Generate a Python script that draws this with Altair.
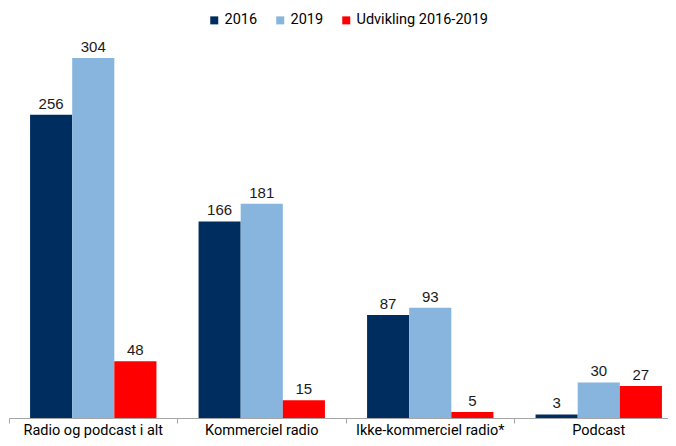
import altair as alt
import pandas as pd

categories = ["Radio og podcast i alt", "Kommerciel radio", "Ikke-kommerciel radio*", "Podcast"]
series = ["2016", "2019", "Udvikling 2016-2019"]
values_2016 = [256, 166, 87, 3]
values_2019 = [304, 181, 93, 30]
values_dev = [48, 15, 5, 27]
colors = ["#002D5F", "#87B5DE", "#FF0000"]

rows = []
for i, c in enumerate(categories):
    for s, vals in zip(series, [values_2016, values_2019, values_dev]):
        rows.append({"kategori": c, "serie": s, "vaerdi": vals[i]})
df = pd.DataFrame(rows)

x = alt.X(
    "kategori:N",
    sort=categories,
    scale=alt.Scale(paddingInner=0, paddingOuter=0, range=[0, 674]),
    axis=alt.Axis(
        title=None, labelAngle=0, bandPosition=0,
        domainColor="#A6A6A6", tickColor="#A6A6A6", tickSize=5,
        labelFont="Roboto", labelFontSize=14.5, labelColor="#000000",
        labelBaseline="alphabetic", labelPadding=11, domainWidth=1, tickWidth=1,
    ),
)
xo = alt.XOffset("serie:N", sort=series, scale=alt.Scale(paddingInner=0, paddingOuter=0.5))
y = alt.Y("vaerdi:Q", scale=alt.Scale(domain=[0, 327.6], nice=False), axis=None)
color = alt.Color(
    "serie:N",
    sort=series,
    scale=alt.Scale(domain=series, range=colors),
    legend=alt.Legend(
        title=None, orient="none", direction="horizontal",
        legendX=198, legendY=-17, symbolType="square", symbolSize=64,
        symbolStrokeWidth=0, symbolOpacity=1, labelFont="Roboto", labelFontSize=14.5,
        labelOffset=3, columnPadding=15, padding=0, labelColor="#000000",
    ),
)

bars = alt.Chart(df).mark_bar(opacity=1).encode(x=x, xOffset=xo, y=y, color=color)
labels = alt.Chart(df).mark_text(
    baseline="alphabetic", dy=-6, font="Liberation Sans", fontSize=15, color="#1a1a1a"
).encode(x=x, xOffset=xo, y=y, text="vaerdi:Q")

chart = alt.layer(bars, labels).properties(
    width=659, height=388,
    autosize=alt.AutoSizeParams(type="none"),
    padding={"left": 1, "top": 22, "right": 0, "bottom": 20},
).configure_view(stroke=None)

chart.save("out.html", embed_options={"renderer": "svg", "actions": False})
